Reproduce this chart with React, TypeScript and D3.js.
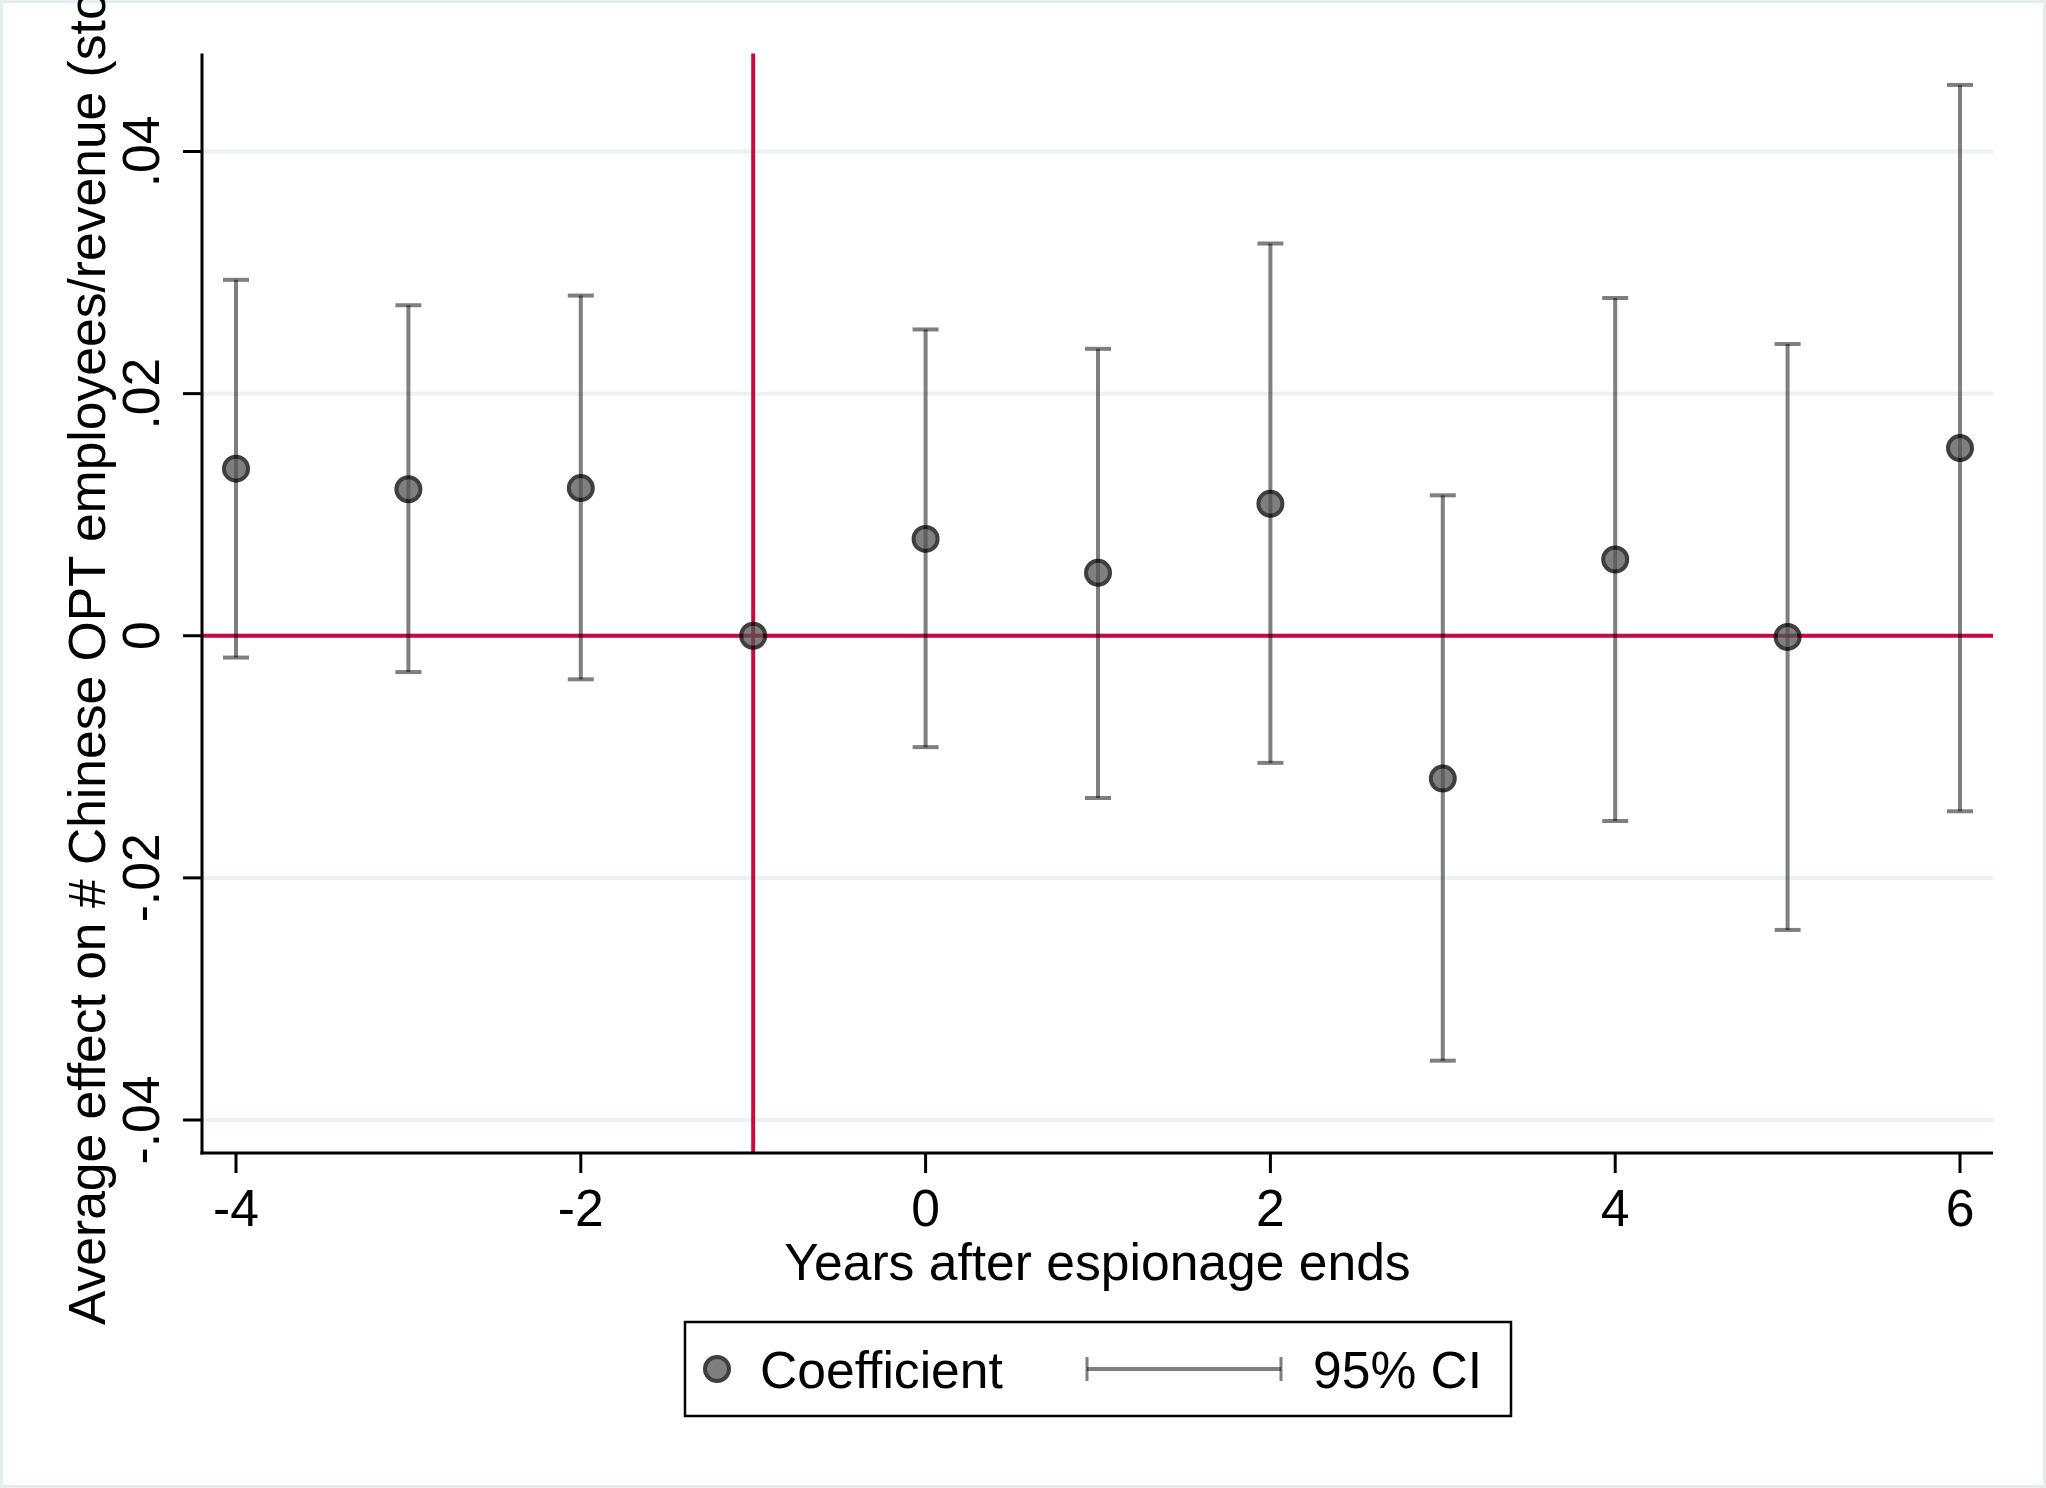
import * as d3 from 'd3';

const years = [-4, -3, -2, -1, 0, 1, 2, 3, 4, 5, 6];
const coef = [0.0138, 0.0121, 0.0122, 0, 0.008, 0.0052, 0.0109, -0.0118, 0.0063, -0.0001, 0.0155];
const ciLow = [-0.0018, -0.003, -0.0036, null, -0.0092, -0.0134, -0.0105, -0.0351, -0.0153, -0.0243, -0.0145];
const ciHigh = [0.0294, 0.0273, 0.0281, null, 0.0253, 0.0237, 0.0324, 0.0116, 0.0279, 0.0241, 0.0455];

const xTicks = [-4, -2, 0, 2, 4, 6];
const yTicks = [-0.04, -0.02, 0, 0.02, 0.04];
const yTickLabels = ['-.04', '-.02', '0', '.02', '.04'];

const eventYear = -1;
const xTitle = 'Years after espionage ends';
const yTitle = 'Average effect on # Chinese OPT employees/revenue (stock)';
const legendLabels = ['Coefficient', '95% CI'];

const W = 2046;
const H = 1488;
const plot = { left: 202, right: 1993, top: 53.5, bottom: 1153 };
const font = '"Liberation Sans", Arial, Helvetica, sans-serif';
const fs = 51.6;
const red = '#c80a3c';
const ciColor = 'rgba(0,0,0,0.5)';
const grid = '#eaf2f3';

export default function App() {
  const x = d3.scaleLinear().domain([-4, 6]).range([236, 1960]);
  const y = d3.scaleLinear().domain([-0.04, 0.04]).range([1120, 151.5]);
  const capW = 13;

  // translucent Stata-style marker: grey fill, dark ring
  const marker = (cx: number, cy: number, key?: any) => (
    <g key={key} opacity={0.75}>
      <circle cx={cx} cy={cy} r={12} fill="#555" stroke="#000" strokeWidth={4} />
    </g>
  );

  return (
    <svg
      width={W}
      height={H}
      style={{ position: 'absolute', left: 0, top: 0, background: '#fff' }}
      fontFamily={font}
    >
      <rect x={1.5} y={1.5} width={W - 3} height={H - 3} fill="#fff" stroke="#e6edef" strokeWidth={3} />

      {/* gridlines */}
      {yTicks.map((t) => (
        <line key={'g' + t} x1={plot.left} x2={plot.right} y1={y(t)} y2={y(t)} stroke={grid} strokeWidth={4} />
      ))}

      {/* reference lines */}
      <line x1={plot.left} x2={plot.right} y1={y(0)} y2={y(0)} stroke={red} strokeWidth={4} />
      <line x1={x(eventYear)} x2={x(eventYear)} y1={plot.top} y2={plot.bottom} stroke={red} strokeWidth={4} />

      {/* confidence intervals */}
      {years.map((yr, i) => {
        const lo = ciLow[i];
        const hi = ciHigh[i];
        if (lo == null || hi == null) return null;
        const cx = x(yr);
        return (
          <g key={'ci' + yr} stroke={ciColor} strokeWidth={4}>
            <line x1={cx} x2={cx} y1={y(hi)} y2={y(lo)} />
            <line x1={cx - capW} x2={cx + capW} y1={y(hi)} y2={y(hi)} />
            <line x1={cx - capW} x2={cx + capW} y1={y(lo)} y2={y(lo)} />
          </g>
        );
      })}

      {/* coefficients */}
      {years.map((yr, i) => marker(x(yr), y(coef[i]), 'm' + yr))}

      {/* axes */}
      <line x1={plot.left} x2={plot.left} y1={plot.top} y2={plot.bottom + 1.5} stroke="#000" strokeWidth={3} />
      <line x1={plot.left - 1.5} x2={plot.right} y1={plot.bottom} y2={plot.bottom} stroke="#000" strokeWidth={3} />

      {yTicks.map((t, i) => (
        <g key={'yt' + t}>
          <line x1={183} x2={plot.left} y1={y(t)} y2={y(t)} stroke="#000" strokeWidth={3} />
          <text
            transform={`translate(159,${y(t)}) rotate(-90)`}
            textAnchor="middle"
            fontSize={fs}
            fill="#000"
          >
            {yTickLabels[i]}
          </text>
        </g>
      ))}

      {xTicks.map((t) => (
        <g key={'xt' + t}>
          <line x1={x(t)} x2={x(t)} y1={plot.bottom} y2={plot.bottom + 20} stroke="#000" strokeWidth={3} />
          <text x={x(t)} y={1226} textAnchor="middle" fontSize={fs} fill="#000">
            {t}
          </text>
        </g>
      ))}

      <text x={(plot.left + plot.right) / 2} y={1280} textAnchor="middle" fontSize={fs} fill="#000">
        {xTitle}
      </text>
      <text transform="translate(105,1325) rotate(-90)" textAnchor="start" fontSize={fs} fill="#000">
        {yTitle}
      </text>

      {/* legend */}
      <rect x={685} y={1322} width={826} height={94} fill="#fff" stroke="#000" strokeWidth={2.5} />
      {marker(717, 1369)}
      <text x={760} y={1388} fontSize={fs} fill="#000">
        {legendLabels[0]}
      </text>
      <g stroke={ciColor}>
        <line x1={1087} x2={1281} y1={1369} y2={1369} strokeWidth={4} />
        <line x1={1087} x2={1087} y1={1357} y2={1381} strokeWidth={3} />
        <line x1={1281} x2={1281} y1={1357} y2={1381} strokeWidth={3} />
      </g>
      <text x={1313} y={1388} fontSize={fs} fill="#000">
        {legendLabels[1]}
      </text>
    </svg>
  );
}
